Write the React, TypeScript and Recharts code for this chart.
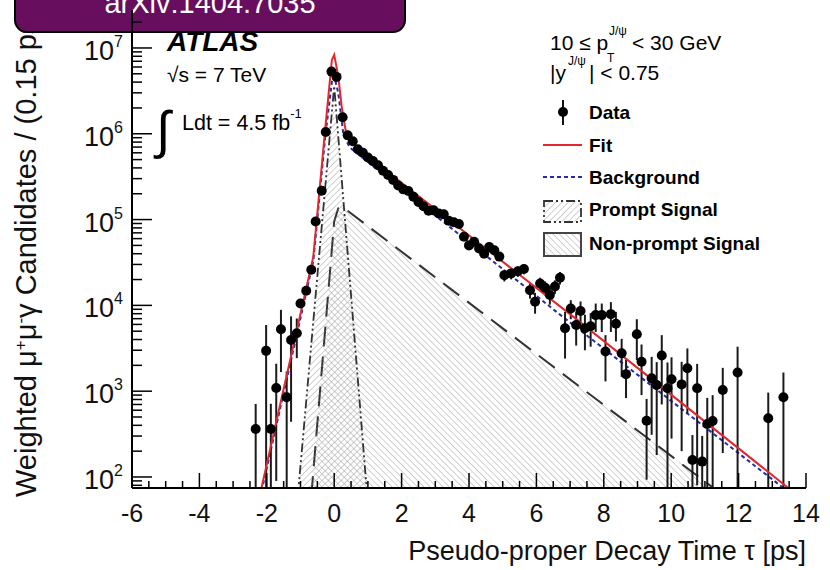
import React from 'react';
import { ComposedChart, XAxis, YAxis, Line, Area, Scatter, ErrorBar } from 'recharts';

const FONT = '"Liberation Sans", Arial, Helvetica, sans-serif';

const X_MIN = -6;
const X_MAX = 14;
const Y_MIN = 74.4;
const Y_MAX = 2.77e7;

const X_LABELS = [-6, -4, -2, 0, 2, 4, 6, 8, 10, 12, 14];
const X_MINOR_STEP = 0.5;
const Y_DECADES = [1, 2, 3, 4, 5, 6, 7];
const Y_LABEL_DECADES = [2, 3, 4, 5, 6, 7];
const Y_MULTIPLIERS = [1, 2, 3, 4, 5, 6, 7, 8, 9];

// Data points (pseudo-proper decay time, weighted candidates, error)
const DATA_X = [
  -2.33, -2.02, -1.88, -1.72, -1.58, -1.41, -1.28, -1.11, -1.0, -0.83, -0.68, -0.55, -0.37, -0.25, -0.08, 0.07,
  0.25, 0.4, 0.55, 0.7, 0.85, 1.0, 1.15, 1.3, 1.45, 1.6, 1.75, 1.9, 2.05, 2.2, 2.35, 2.5, 2.65, 2.8, 2.95, 3.1,
  3.25, 3.4, 3.55, 3.7, 3.85, 4.0, 4.15, 4.3, 4.45, 4.6, 4.75, 4.9, 5.05, 5.25, 5.45, 5.63, 5.81, 5.96, 6.11,
  6.26, 6.4, 6.55, 6.7, 6.85, 7.02, 7.18, 7.31, 7.44, 7.61, 7.76, 7.94, 8.05, 8.21, 8.36, 8.53, 8.66, 8.98,
  9.12, 9.27, 9.42, 9.57, 9.72, 9.89, 10.01, 10.31, 10.48, 10.63, 10.77, 10.92, 11.07, 11.23, 11.53, 11.97,
  12.88, 13.33,
];
const DATA_Y = [
  363, 2950, 363, 1090, 5270, 850, 3940, 4730, 10500, 14800, 26000, 95000, 217000, 1050000, 5300000, 4600000,
  1560000, 960000, 820000, 660000, 600000, 530000, 480000, 430000, 370000, 330000, 290000, 250000, 225000,
  215000, 185000, 160000, 143000, 127000, 128000, 118000, 115000, 97000, 93000, 89000, 63000, 50000, 55000,
  46000, 40000, 48000, 44000, 37000, 22500, 23600, 25000, 26500, 15000, 11000, 18000, 16000, 13200, 16600,
  21000, 5400, 9200, 5900, 8600, 5400, 5700, 7700, 7700, 2900, 7900, 6100, 2770, 1580, 4600, 2200, 453, 1410,
  1180, 2600, 1080, 1380, 1200, 1850, 158, 1080, 151, 415, 449, 1030, 1650, 483, 850,
];
const DATA_ERR = [
  345, 2950, 350, 1000, 3600, 850, 3500, 2300, 1200, 1500, 2000, 4000, 6000, 10000, 20000, 20000,
  12000, 10000, 9000, 8000, 8000, 7000, 7000, 7000, 6000, 6000, 6000, 5000, 5000, 5000, 5000, 5000, 4000,
  4000, 4000, 4000, 4000, 4000, 4000, 4000, 4000, 4000, 4000, 3500, 3500, 3500, 3500, 3500, 3500, 3500, 3500,
  3500, 3000, 3000, 3000, 3000, 3000, 3000, 3500, 3000, 2300, 2500, 2500, 2400, 2400, 2800, 2800, 1600, 3000,
  2300, 1300, 750, 2300, 1300, 360, 1100, 1000, 1900, 1080, 1100, 1000, 1300, 150, 1000, 150, 420, 450, 840,
  1650, 480, 800,
];

// Fit (total)
const FIT_X = [-2.2, -0.62, -0.27, -0.07, 0, 0.12, 0.22, 0.37, 0.67, 1.16, 1.36, 7.09, 13.6];
const FIT_Y = [63, 37000, 1100000, 7200000, 8300000, 4700000, 2100000, 930000, 710000, 500000, 420000, 7400, 68];

// Background
const BKG_X = [-2.2, -0.62, -0.27, -0.07, 0, 0.12, 0.27, 0.45, 0.7, 1.16, 6.7, 13.5];
const BKG_Y = [57, 33000, 900000, 4000000, 4700000, 3000000, 1000000, 700000, 580000, 420000, 7800, 66];

// Prompt signal
const PROMPT_X = [-1.08, 0, 0.98];
const PROMPT_Y = [60, 3600000, 60];

// Non-prompt signal
const NONPROMPT_X = [-0.68, -0.12, 0.0, 0.12, 0.25, 11.45];
const NONPROMPT_Y = [60, 26000, 95000, 135000, 140000, 65];

const zip = (xs: number[], ys: number[]) => xs.map((x, i) => ({ x, y: ys[i] }));

const dataPoints = DATA_X.map((x, i) => {
  const y = DATA_Y[i];
  const e = DATA_ERR[i];
  return { x, y, err: [Math.min(e, y - Y_MIN), e] };
});
const fitData = zip(FIT_X, FIT_Y);
const bkgData = zip(BKG_X, BKG_Y);
const promptData = zip(PROMPT_X, PROMPT_Y);
const nonPromptData = zip(NONPROMPT_X, NONPROMPT_Y);

const xTicks: number[] = [];
for (let v = X_MIN; v <= X_MAX + 1e-9; v += X_MINOR_STEP) xTicks.push(Math.round(v * 10) / 10);

const yTicks: number[] = [];
Y_DECADES.forEach((d) =>
  Y_MULTIPLIERS.forEach((m) => {
    const v = m * Math.pow(10, d);
    if (v >= Y_MIN && v <= Y_MAX) yTicks.push(v);
  })
);

const isXMajor = (v: number) => X_LABELS.some((l) => Math.abs(l - v) < 1e-6);
const yDecade = (v: number) => {
  const lg = Math.log10(v);
  return Math.abs(lg - Math.round(lg)) < 1e-6 ? Math.round(lg) : null;
};

const XBottomTick = (props: any) => {
  const { x, y, payload } = props;
  const v = payload.value;
  const major = isXMajor(v);
  return (
    <g>
      <line x1={x} y1={y} x2={x} y2={y - (major ? 15 : 7)} stroke="#000" strokeWidth={1.5} />
      {major && (
        <text x={x} y={y + 34} textAnchor="middle" fontSize={25} fontFamily={FONT} fill="#111">
          {String(v)}
        </text>
      )}
    </g>
  );
};

const XTopTick = (props: any) => {
  const { x, y, payload } = props;
  const major = isXMajor(payload.value);
  return (
    <g>
      <line x1={x} y1={y} x2={x} y2={y + (major ? 15 : 7)} stroke="#000" strokeWidth={1.5} />
    </g>
  );
};

const YLeftTick = (props: any) => {
  const { x, y, payload } = props;
  const d = yDecade(payload.value);
  const major = d !== null;
  return (
    <g>
      <line x1={x} y1={y} x2={x + (major ? 20 : 10)} y2={y} stroke="#000" strokeWidth={1.5} />
      {major && Y_LABEL_DECADES.includes(d as number) && (
        <text x={x - 9} y={y + 12} textAnchor="end" fontSize={27} fontFamily={FONT} fill="#111">
          10
          <tspan dy={-13} fontSize={16}>
            {String(d)}
          </tspan>
        </text>
      )}
    </g>
  );
};

const YRightTick = (props: any) => {
  const { x, y, payload } = props;
  const major = yDecade(payload.value) !== null;
  return (
    <g>
      <line x1={x} y1={y} x2={x - (major ? 20 : 10)} y2={y} stroke="#000" strokeWidth={1.5} />
    </g>
  );
};

const Marker = (props: any) => {
  const { cx, cy } = props;
  if (cx == null || cy == null || isNaN(cx) || isNaN(cy)) return <g />;
  return <circle cx={cx} cy={cy} r={5} fill="#000" />;
};

const RED = '#e0282e';
const BLUE = '#2a2aa8';
const PROMPT_DASH = '9 3 2 3 2 3';
const NP_DASH = '20 10';

export default function App() {
  return (
    <div style={{ position: 'absolute', left: 0, top: 0, width: 830, height: 570, background: '#fff' }}>
      <ComposedChart width={830} height={570} margin={{ top: 10, right: 24, bottom: 0, left: 0 }}>
        <defs>
          <pattern id="hatchP" patternUnits="userSpaceOnUse" width="4.5" height="4.5" patternTransform="rotate(45)">
            <line x1="0" y1="0" x2="0" y2="4.5" stroke="#8a8a8a" strokeWidth="0.8" />
          </pattern>
          <pattern id="hatchNP" patternUnits="userSpaceOnUse" width="4.5" height="4.5" patternTransform="rotate(-45)">
            <line x1="0" y1="0" x2="0" y2="4.5" stroke="#8a8a8a" strokeWidth="0.8" />
          </pattern>
        </defs>

        <XAxis
          dataKey="x"
          type="number"
          domain={[X_MIN, X_MAX]}
          allowDataOverflow
          ticks={xTicks}
          interval={0}
          height={82}
          tickSize={0}
          tickMargin={0}
          tickLine={false}
          tick={XBottomTick}
          axisLine={{ stroke: '#000', strokeWidth: 2 }}
        />
        <XAxis
          xAxisId="top"
          orientation="top"
          dataKey="x"
          type="number"
          domain={[X_MIN, X_MAX]}
          allowDataOverflow
          ticks={xTicks}
          interval={0}
          height={0}
          tickSize={0}
          tickMargin={0}
          tickLine={false}
          tick={XTopTick}
          axisLine={{ stroke: '#000', strokeWidth: 2 }}
        />
        <YAxis
          dataKey="y"
          type="number"
          scale="log"
          domain={[Y_MIN, Y_MAX]}
          allowDataOverflow
          ticks={yTicks}
          interval={0}
          width={132}
          tickSize={0}
          tickMargin={0}
          tickLine={false}
          tick={YLeftTick}
          axisLine={{ stroke: '#000', strokeWidth: 2 }}
        />
        <YAxis
          yAxisId="right"
          orientation="right"
          dataKey="y"
          type="number"
          scale="log"
          domain={[Y_MIN, Y_MAX]}
          allowDataOverflow
          ticks={yTicks}
          interval={0}
          width={0}
          tickSize={0}
          tickMargin={0}
          tickLine={false}
          tick={YRightTick}
          axisLine={{ stroke: '#000', strokeWidth: 2 }}
        />

        <Area
          data={nonPromptData}
          dataKey="y"
          type="linear"
          baseValue={Y_MIN}
          fill="url(#hatchNP)"
          fillOpacity={1}
          stroke="#333"
          strokeWidth={2}
          strokeDasharray={NP_DASH}
          isAnimationActive={false}
          dot={false}
          activeDot={false}
        />
        <Area
          data={promptData}
          dataKey="y"
          type="linear"
          baseValue={Y_MIN}
          fill="url(#hatchP)"
          fillOpacity={1}
          stroke="#333"
          strokeWidth={1.8}
          strokeDasharray={PROMPT_DASH}
          isAnimationActive={false}
          dot={false}
          activeDot={false}
        />
        <Line
          data={bkgData}
          dataKey="y"
          type="linear"
          stroke={BLUE}
          strokeWidth={2}
          strokeDasharray="4 3"
          dot={false}
          activeDot={false}
          isAnimationActive={false}
        />
        <Scatter data={dataPoints} dataKey="y" shape={Marker} isAnimationActive={false}>
          <ErrorBar dataKey="err" direction="y" width={0} stroke="#1a1a1a" strokeWidth={2} />
        </Scatter>
        <Line
          data={fitData}
          dataKey="y"
          type="linear"
          stroke={RED}
          strokeWidth={2}
          dot={false}
          activeDot={false}
          isAnimationActive={false}
        />
        <Line
          xAxisId="top"
          yAxisId="right"
          data={fitData}
          dataKey="y"
          stroke="none"
          dot={false}
          activeDot={false}
          isAnimationActive={false}
        />

        {/* ATLAS labels */}
        <text x={167} y={51} fontSize={28} fontWeight="bold" fontStyle="italic" fontFamily={FONT} fill="#000">
          ATLAS
        </text>
        <text x={167} y={82} fontSize={21} fontFamily={FONT} fill="#000">
          √s = 7 TeV
        </text>
        <text x={156} y={148} fontSize={52} fontFamily={FONT} fill="#000">
          ∫
        </text>
        <text x={182} y={130} fontSize={21.5} fontFamily={FONT} fill="#000">
          Ldt = 4.5 fb
          <tspan dy={-12} fontSize={13}>
            -1
          </tspan>
        </text>

        {/* Kinematic selection */}
        <text x={550} y={50} fontSize={21} fontFamily={FONT} fill="#000">
          10 ≤ p
        </text>
        <text x={609} y={35} fontSize={12} fontFamily={FONT} fill="#000">
          J/ψ
        </text>
        <text x={607} y={62} fontSize={12} fontFamily={FONT} fill="#000">
          T
        </text>
        <text x={632} y={50} fontSize={21} fontFamily={FONT} fill="#000">
          {'< 30 GeV'}
        </text>
        <text x={550} y={80} fontSize={21} fontFamily={FONT} fill="#000">
          |y
        </text>
        <text x={568} y={65} fontSize={12} fontFamily={FONT} fill="#000">
          J/ψ
        </text>
        <text x={589} y={80} fontSize={21} fontFamily={FONT} fill="#000">
          {'| < 0.75'}
        </text>

        {/* Legend */}
        <line x1={563} y1={100} x2={563} y2={125} stroke="#111" strokeWidth={2} />
        <circle cx={563} cy={112} r={5} fill="#000" />
        <text x={589} y={119} fontSize={19} fontWeight="bold" fontFamily={FONT} fill="#000">
          Data
        </text>
        <line x1={543} y1={145} x2={582} y2={145} stroke={RED} strokeWidth={2} />
        <text x={589} y={152} fontSize={19} fontWeight="bold" fontFamily={FONT} fill="#000">
          Fit
        </text>
        <line x1={543} y1={177} x2={582} y2={177} stroke={BLUE} strokeWidth={2} strokeDasharray="4 3" />
        <text x={589} y={184} fontSize={19} fontWeight="bold" fontFamily={FONT} fill="#000">
          Background
        </text>
        <rect x={544} y={201} width={37} height={21} fill="url(#hatchP)" stroke="#333" strokeWidth={1.8} strokeDasharray={PROMPT_DASH} />
        <text x={589} y={216} fontSize={19} fontWeight="bold" fontFamily={FONT} fill="#000">
          Prompt Signal
        </text>
        <rect x={544} y={233} width={37} height={23} fill="url(#hatchNP)" stroke="#444" strokeWidth={2} />
        <text x={589} y={250} fontSize={19} fontWeight="bold" fontFamily={FONT} fill="#000">
          Non-prompt Signal
        </text>

        {/* Axis titles */}
        <text x={806} y={560} textAnchor="end" fontSize={27} fontFamily={FONT} fill="#111">
          Pseudo-proper Decay Time τ [ps]
        </text>
        <text transform="translate(36,497) rotate(-90)" fontSize={29} fontFamily={FONT} fill="#111">
          Weighted μ
          <tspan dy={-10} fontSize={17}>
            +
          </tspan>
          <tspan dy={10}>μ</tspan>
          <tspan dy={-10} fontSize={17}>
            -
          </tspan>
          <tspan dy={10}>γ Candidates / (0.15 ps)</tspan>
        </text>

        {/* arXiv banner */}
        <rect x={15} y={-20} width={390} height={52} rx={12} ry={12} fill="#670f5e" stroke="#000" strokeWidth={2} />
        <text x={210} y={13} textAnchor="middle" fontSize={29} fontFamily={FONT} fill="#fff">
          arXiv:1404.7035
        </text>
      </ComposedChart>
    </div>
  );
}
